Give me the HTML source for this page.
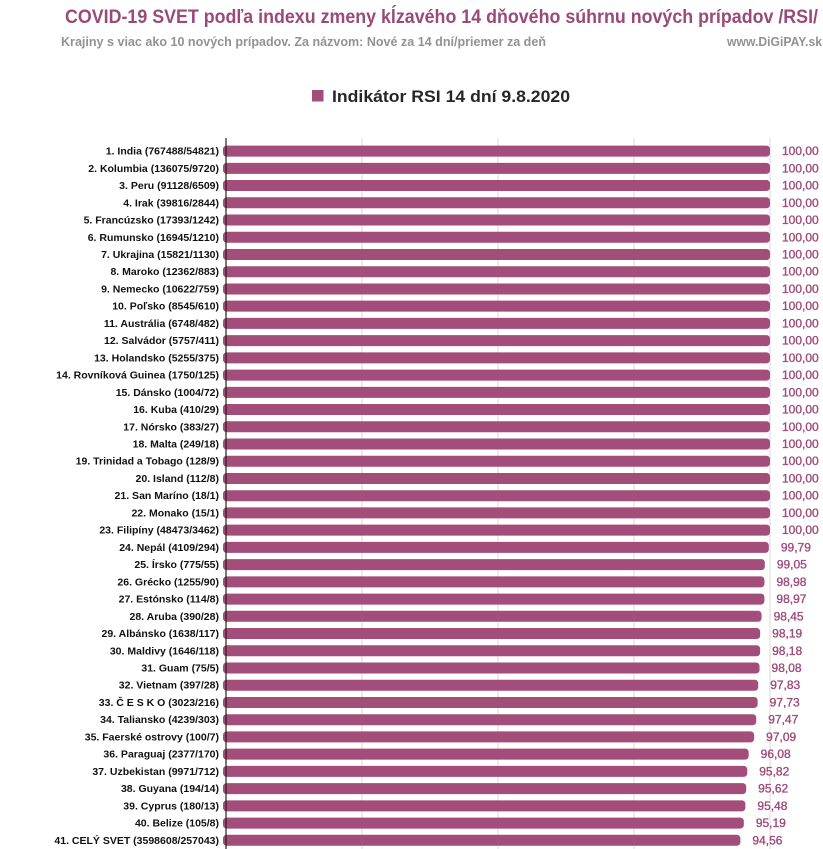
<!DOCTYPE html>
<html>
<head>
<meta charset="utf-8">
<style>
html,body{margin:0;padding:0;background:#fff;}
svg{display:block;}
text{font-family:"Liberation Sans",Arial,sans-serif;}
</style>
</head>
<body>
<svg width="823" height="849" viewBox="0 0 823 849" xmlns="http://www.w3.org/2000/svg">
<rect width="823" height="849" fill="#fff"/>
<text x="65" y="23" font-size="19" font-weight="bold" fill="#9a4a78" textLength="753" lengthAdjust="spacingAndGlyphs">COVID-19 SVET  podľa indexu zmeny  kĺzavého 14 dňového súhrnu nových prípadov /RSI/</text>
<text x="61" y="46" font-size="12.5" font-weight="bold" fill="#929292" textLength="485" lengthAdjust="spacingAndGlyphs">Krajiny s viac ako 10 nových prípadov. Za názvom: Nové za 14 dní/priemer za deň</text>
<text x="727" y="46" font-size="12.5" font-weight="bold" fill="#929292" textLength="95" lengthAdjust="spacingAndGlyphs">www.DiGiPAY.sk</text>
<rect x="312" y="90" width="11.5" height="11.5" fill="#a34d7a"/>
<text x="332" y="102" font-size="17" font-weight="bold" fill="#262626" textLength="238" lengthAdjust="spacingAndGlyphs">Indikátor RSI 14 dní 9.8.2020</text>
<g stroke="#d9d9d9" stroke-width="1">
<line x1="362" y1="138" x2="362" y2="849"/>
<line x1="498" y1="138" x2="498" y2="849"/>
<line x1="634" y1="138" x2="634" y2="849"/>
<line x1="770" y1="138" x2="770" y2="849"/>
</g>
<g id="rows"></g>
<line x1="226" y1="138" x2="226" y2="849" stroke="#222" stroke-width="1.2"/>
</svg>
<script>
(function(){
var labels=["1. India (767488/54821)","2. Kolumbia (136075/9720)","3. Peru (91128/6509)","4. Irak (39816/2844)","5. Francúzsko (17393/1242)","6. Rumunsko (16945/1210)","7. Ukrajina (15821/1130)","8. Maroko (12362/883)","9. Nemecko (10622/759)","10. Poľsko (8545/610)","11. Austrália (6748/482)","12. Salvádor (5757/411)","13. Holandsko (5255/375)","14. Rovníková Guinea (1750/125)","15. Dánsko (1004/72)","16. Kuba (410/29)","17. Nórsko (383/27)","18. Malta (249/18)","19. Trinidad a Tobago (128/9)","20. Island (112/8)","21. San Maríno (18/1)","22. Monako (15/1)","23. Filipíny (48473/3462)","24. Nepál (4109/294)","25. Írsko (775/55)","26. Grécko (1255/90)","27. Estónsko (114/8)","28. Aruba (390/28)","29. Albánsko (1638/117)","30. Maldivy (1646/118)","31. Guam (75/5)","32. Vietnam (397/28)","33. Č E S K O (3023/216)","34. Taliansko (4239/303)","35. Faerské ostrovy (100/7)","36. Paraguaj (2377/170)","37. Uzbekistan (9971/712)","38. Guyana (194/14)","39. Cyprus (180/13)","40. Belize (105/8)","41. CELÝ SVET (3598608/257043)"];
var vals=[100,100,100,100,100,100,100,100,100,100,100,100,100,100,100,100,100,100,100,100,100,100,100,99.79,99.05,98.98,98.97,98.45,98.19,98.18,98.08,97.83,97.73,97.47,97.09,96.08,95.82,95.62,95.48,95.19,94.56];
var ns="http://www.w3.org/2000/svg";
var g=document.getElementById("rows");
for(var i=0;i<labels.length;i++){
  var cy=150.8+i*17.23;
  var t=document.createElementNS(ns,"text");
  t.setAttribute("x","219");t.setAttribute("y",(cy+3.8).toFixed(2));
  t.setAttribute("text-anchor","end");t.setAttribute("font-size","10.5");
  t.setAttribute("font-weight","bold");t.setAttribute("fill","#111");
  t.textContent=labels[i];g.appendChild(t);
  var w=544*vals[i]/100;
  var r=document.createElementNS(ns,"rect");
  r.setAttribute("x","223");r.setAttribute("y",(cy-5.2).toFixed(2));
  r.setAttribute("width",(w+3).toFixed(2));r.setAttribute("height","11");
  r.setAttribute("rx","3.5");r.setAttribute("fill","#a34d7a");
  g.appendChild(r);
  var v=document.createElementNS(ns,"text");
  v.setAttribute("x",(226+w+12).toFixed(2));v.setAttribute("y",(cy+4.3).toFixed(2));
  v.setAttribute("font-size","12");v.setAttribute("fill","#9e4a79");
  v.setAttribute("stroke","#9e4a79");v.setAttribute("stroke-width","0.35");
  v.textContent=vals[i].toFixed(2).replace(".",",");g.appendChild(v);
}
})();
</script>
</body>
</html>
